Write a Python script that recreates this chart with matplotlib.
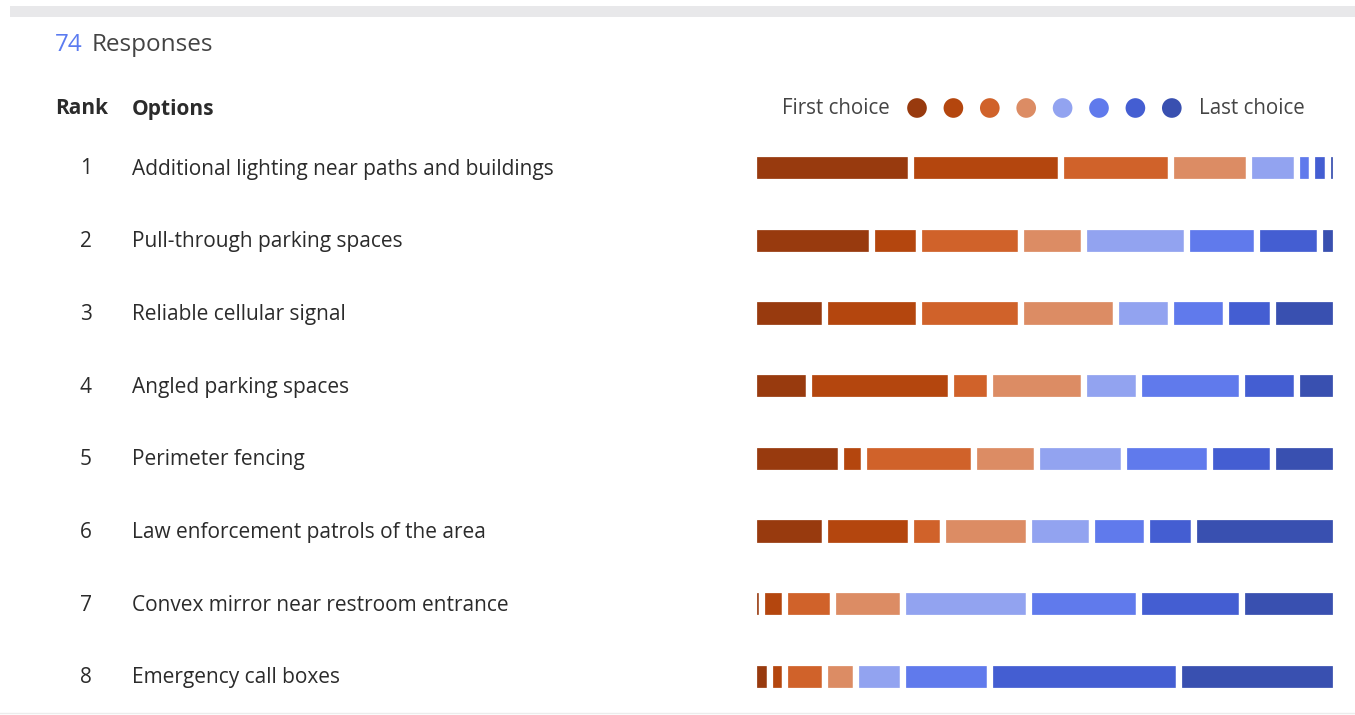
import matplotlib.pyplot as plt
import numpy as np

plt.rcParams['font.family'] = ['Open Sans', 'DejaVu Sans']

total_responses = 74
options = [
    'Additional lighting near paths and buildings',
    'Pull-through parking spaces',
    'Reliable cellular signal',
    'Angled parking spaces',
    'Perimeter fencing',
    'Law enforcement patrols of the area',
    'Convex mirror near restroom entrance',
    'Emergency call boxes',
]
ranks = [1, 2, 3, 4, 5, 6, 7, 8]
# counts per choice position (first choice ... last choice)
counts = [
    [20, 19, 14, 10, 6, 2, 2, 1],
    [15, 6, 13, 8, 13, 9, 8, 2],
    [9, 12, 13, 12, 7, 7, 6, 8],
    [7, 18, 5, 12, 7, 13, 7, 5],
    [11, 3, 14, 8, 11, 11, 8, 8],
    [9, 11, 4, 11, 8, 7, 6, 18],
    [1, 3, 6, 9, 16, 14, 13, 12],
    [2, 2, 5, 4, 6, 11, 24, 20],
]
colors = ['#983a0e', '#b4460e', '#d0622a', '#dc8c64',
          '#92a3f0', '#607aec', '#445ed2', '#3950b0']

W, H = 1355, 715
fig = plt.figure(figsize=(W / 100, H / 100), dpi=100)

# background axes in pixel coordinates for text
bg = fig.add_axes([0, 0, 1, 1])
bg.set_xlim(0, W)
bg.set_ylim(H, 0)
bg.axis('off')
bg.axhspan(6, 17, xmin=10 / W, xmax=1, color='#e8e8ea', lw=0)
bg.axhline(713, color='#ececec', lw=1)

txt = '#2b2b2b'
bg.text(55, 45, '74', color='#5b7bf0', fontsize=17.5, va='center')
bg.text(92, 45, 'Responses', color='#444444', fontsize=17.5, va='center')
bg.text(55, 109, 'Rank', color=txt, fontsize=15, fontweight='bold', va='center')
bg.text(132, 109, 'Options', color=txt, fontsize=15, fontweight='bold', va='center')

row_y = 169 + 72.7 * np.arange(len(options))
for r, opt, y in zip(ranks, options, row_y):
    bg.text(86, y, str(r), color=txt, fontsize=15, ha='center', va='center')
    bg.text(132, y, opt, color=txt, fontsize=15, ha='left', va='center')

# legend
bg.text(890, 109, 'First choice', color='#444444', fontsize=14.8, ha='right', va='center')
dot_x = 917 + 36.4 * np.arange(len(colors))
bg.scatter(dot_x, [108] * len(colors), s=200, c=colors, lw=0)
bg.text(1199, 109, 'Last choice', color='#444444', fontsize=14.8, ha='left', va='center')

# bars
ax = fig.add_axes([754 / W, 1 - 713 / H, (1336 - 754) / W, (713 - 132) / H])
ax.set_xlim(0, total_responses)
ax.set_ylim(len(options) - 0.5, -0.5)
ax.axis('off')
data = np.array(counts)
left = np.zeros(len(options))
for k in range(data.shape[1]):
    ax.barh(np.arange(len(options)), data[:, k], left=left, height=0.39,
            color=colors[k], edgecolor='white', linewidth=4.5)
    left += data[:, k]

fig.savefig('out.png', dpi=100)
